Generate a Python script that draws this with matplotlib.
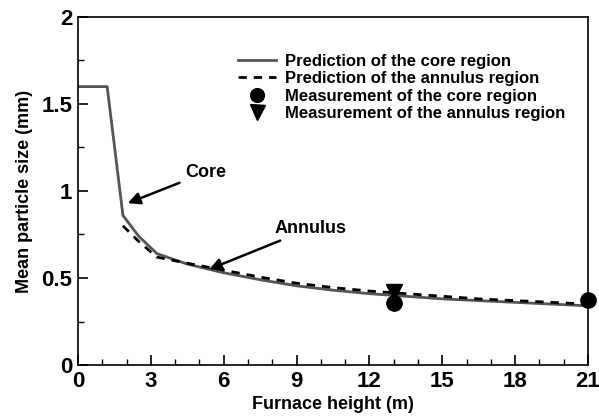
import matplotlib.pyplot as plt
from matplotlib.ticker import MultipleLocator

# Predicted mean particle size along the furnace height
core_x = [0, 1.2, 1.85, 2.5, 3.25, 4.5, 6, 7.5, 9, 10.5, 12, 13.5, 15, 16.5, 18, 19.5, 21]
core_y = [1.6, 1.6, 0.86, 0.74, 0.64, 0.58, 0.53, 0.49, 0.455, 0.43, 0.41, 0.395, 0.38, 0.37, 0.36, 0.35, 0.34]

annulus_x = [1.85, 2.5, 3.25, 4.5, 6, 7.5, 9, 10.5, 12, 13.5, 15, 16.5, 18, 19.5, 21]
annulus_y = [0.80, 0.71, 0.62, 0.585, 0.545, 0.505, 0.47, 0.445, 0.425, 0.41, 0.395, 0.38, 0.37, 0.36, 0.35]

# Measurements
meas_core_x = [13, 21]
meas_core_y = [0.355, 0.373]
meas_annulus_x = [13]
meas_annulus_y = [0.42]

plt.rcParams['font.family'] = 'Liberation Sans'

fig = plt.figure(figsize=(5.99, 4.19), dpi=100)
ax = fig.add_axes([78 / 599, 54 / 419, 510 / 599, 348 / 419])

ax.plot(core_x, core_y, color='#555555', lw=2, label='Prediction of the core region')
ax.plot(annulus_x, annulus_y, color='black', lw=2, ls=(0, (3, 2.5)), label='Prediction of the annulus region')
ax.plot(meas_core_x, meas_core_y, 'o', color='black', ms=11, clip_on=False,
        label='Measurement of the core region')
ax.plot(meas_annulus_x, meas_annulus_y, 'v', color='black', ms=12,
        label='Measurement of the annulus region')

ax.set_xlim(0, 21)
ax.set_ylim(0, 2)
ax.xaxis.set_major_locator(MultipleLocator(3))
ax.xaxis.set_minor_locator(MultipleLocator(1))
ax.yaxis.set_minor_locator(MultipleLocator(0.25))
ax.set_yticks([0, 0.5, 1, 1.5, 2])
ax.set_yticklabels(['0', '0.5', '1', '1.5', '2'])
ax.tick_params(which='major', direction='in', length=7, width=1.2, labelsize=16, pad=4)
ax.tick_params(which='minor', direction='in', length=4, width=1)
for lab in ax.get_xticklabels() + ax.get_yticklabels():
    lab.set_fontweight('bold')
for s in ax.spines.values():
    s.set_linewidth(1.2)

ax.set_xlabel('Furnace height (m)', fontsize=13, fontweight='bold', labelpad=3)
ax.set_ylabel('Mean particle size (mm)', fontsize=13, fontweight='bold', labelpad=6)

ax.annotate('Core', xy=(2.05, 0.93), xytext=(4.4, 1.08), fontsize=13, fontweight='bold',
            arrowprops=dict(arrowstyle='-|>', color='black', lw=1.8, mutation_scale=18,
                            shrinkA=2, shrinkB=0))
ax.annotate('Annulus', xy=(5.4, 0.55), xytext=(8.1, 0.76), fontsize=13, fontweight='bold',
            arrowprops=dict(arrowstyle='-|>', color='black', lw=1.8, mutation_scale=18,
                            shrinkA=2, shrinkB=0))

ax.legend(loc='upper left', bbox_to_anchor=(0.314, 0.895),
          prop={'size': 12, 'weight': 'bold'}, frameon=False,
          borderpad=0, borderaxespad=0, handlelength=2.3, handletextpad=0.5,
          labelspacing=0.15, markerscale=0.9)

plt.savefig('out.png', dpi=100)
